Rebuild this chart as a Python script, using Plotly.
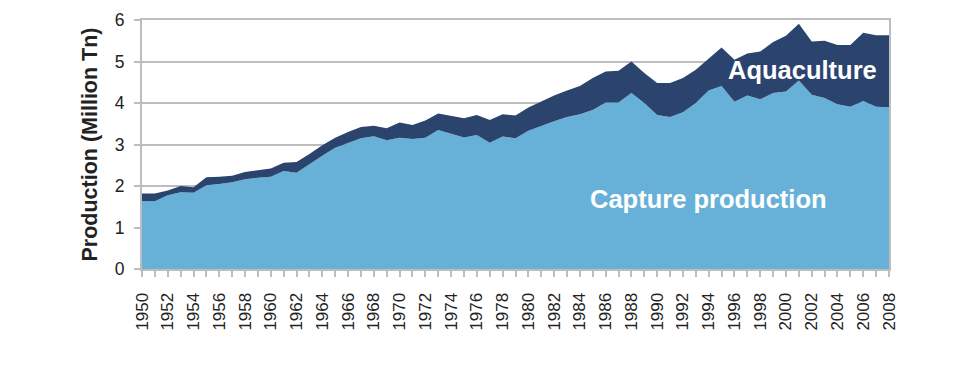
import plotly.graph_objects as go

years = list(range(1950, 2009))

capture = [1.63, 1.63, 1.78, 1.85, 1.84, 2.02, 2.05, 2.09, 2.16, 2.20,
           2.22, 2.36, 2.32, 2.53, 2.73, 2.92, 3.04, 3.15, 3.20, 3.10,
           3.16, 3.13, 3.16, 3.35, 3.26, 3.17, 3.23, 3.04, 3.19, 3.15,
           3.33, 3.45, 3.56, 3.66, 3.73, 3.83, 4.01, 4.01, 4.24, 4.00,
           3.71, 3.66, 3.78, 4.00, 4.30, 4.41, 4.03, 4.18, 4.09, 4.24,
           4.28, 4.54, 4.20, 4.12, 3.97, 3.91, 4.05, 3.91, 3.90]

total = [1.82, 1.82, 1.89, 2.00, 1.97, 2.21, 2.22, 2.25, 2.34, 2.38,
         2.42, 2.56, 2.58, 2.77, 2.98, 3.16, 3.30, 3.42, 3.45, 3.39,
         3.53, 3.47, 3.58, 3.75, 3.69, 3.63, 3.71, 3.59, 3.73, 3.70,
         3.89, 4.03, 4.18, 4.30, 4.41, 4.60, 4.76, 4.78, 5.00, 4.72,
         4.48, 4.48, 4.60, 4.80, 5.08, 5.34, 5.04, 5.19, 5.24, 5.47,
         5.62, 5.91, 5.48, 5.50, 5.40, 5.40, 5.69, 5.63, 5.63]

aquaculture = [round(t - c, 3) for t, c in zip(total, capture)]

x_tickvals = list(range(1950, 2009, 2))
x_ticktext = [str(v) for v in x_tickvals]
y_tickvals = [0, 1, 2, 3, 4, 5, 6]

FONT = "Liberation Sans, Arial, Helvetica, sans-serif"
GRID = "#bdbdc0"

fig = go.Figure()
fig.add_trace(go.Scatter(
    x=years, y=capture, name="Capture production", stackgroup="one",
    mode="lines", line=dict(width=0, color="#67b1d9"), fillcolor="#67b1d9",
    hoverinfo="x+y"))
fig.add_trace(go.Scatter(
    x=years, y=aquaculture, name="Aquaculture", stackgroup="one",
    mode="lines", line=dict(width=0, color="#2b446e"), fillcolor="#2b446e",
    hoverinfo="x+y"))

# page body has an 8px default margin, so the figure is sized/placed to compensate
fig.update_layout(
    width=961, height=368,
    margin=dict(l=134, r=80, t=12, b=107, autoexpand=False),
    paper_bgcolor="white", plot_bgcolor="white",
    showlegend=False,
    font=dict(family=FONT, color="#222222"),
    xaxis=dict(
        range=[1950, 2008], tickmode="array", tickvals=x_tickvals,
        ticktext=x_ticktext, tickangle=-90, tickfont=dict(size=17, color="#222222"),
        ticks="outside", ticklen=6, tickcolor=GRID, tickwidth=2,
        minor=dict(dtick=1, ticks="outside", ticklen=6, tickcolor=GRID, tickwidth=2, showgrid=False),
        showgrid=False, showline=True, linecolor=GRID, linewidth=2, mirror=True,
        zeroline=False, ticklabelstandoff=9, automargin=False),
    yaxis=dict(
        range=[0, 6], tickvals=y_tickvals, tickfont=dict(size=17.5, color="#222222"),
        ticks="outside", ticklen=6, tickcolor=GRID, tickwidth=2,
        showgrid=True, gridcolor=GRID, gridwidth=2,
        showline=True, linecolor=GRID, linewidth=2, mirror=True,
        zeroline=False, ticklabelstandoff=6, automargin=False,
        title=dict(text="<b>Production (Million Tn)</b>", font=dict(size=21.5, color="#222222"),
                   standoff=11)),
    annotations=[
        dict(x=2001.3, y=4.8, xref="x", yref="y", text="<b>Aquaculture</b>",
             showarrow=False, font=dict(size=25.5, color="white", family=FONT)),
        dict(x=1994.0, y=1.69, xref="x", yref="y", text="<b>Capture production</b>",
             showarrow=False, font=dict(size=25.5, color="white", family=FONT)),
    ],
)

fig.write_html("out.html")
